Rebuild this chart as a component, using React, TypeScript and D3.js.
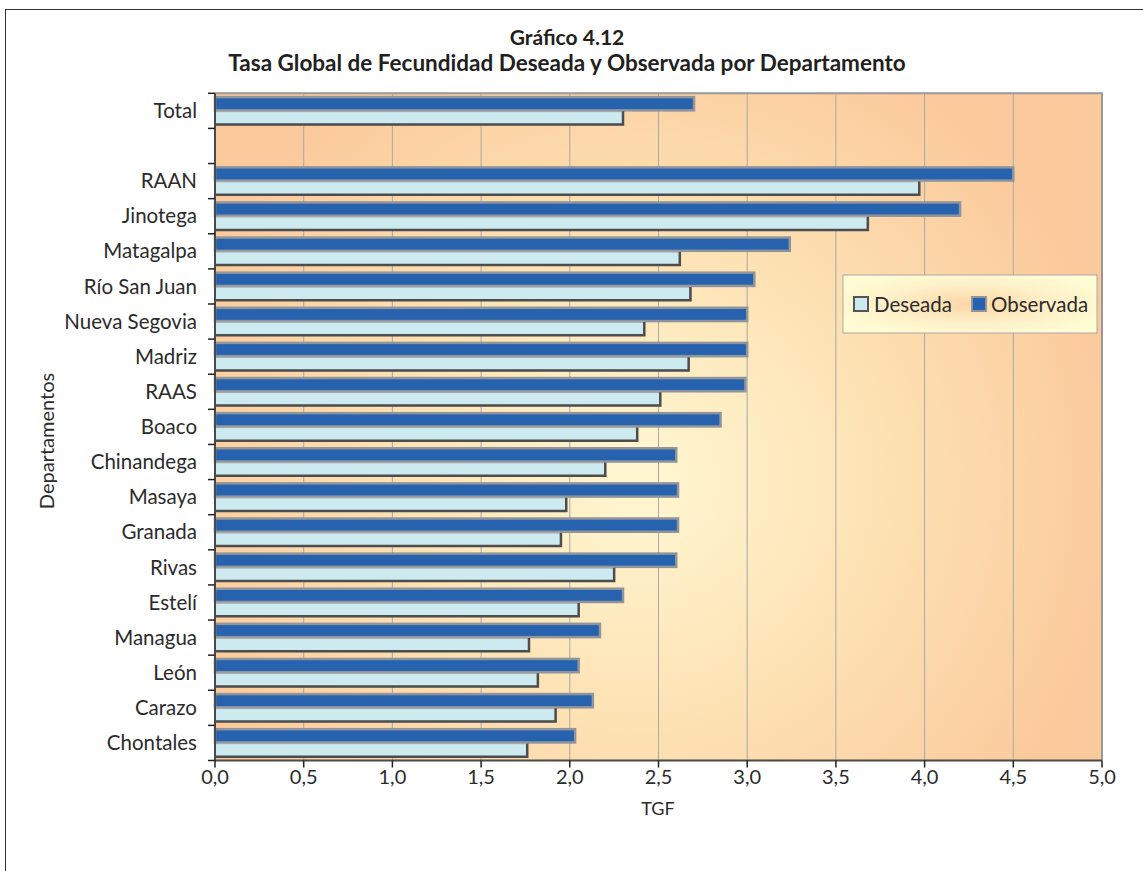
import React, { useEffect, useRef } from 'react';
import * as d3 from 'd3';

const categories = [
    'Total', '', 'RAAN', 'Jinotega', 'Matagalpa', 'Río San Juan', 'Nueva Segovia',
    'Madriz', 'RAAS', 'Boaco', 'Chinandega', 'Masaya', 'Granada', 'Rivas',
    'Estelí', 'Managua', 'León', 'Carazo', 'Chontales',
];
const observada = [2.70, null, 4.50, 4.20, 3.24, 3.04, 3.00, 3.00, 2.99, 2.85, 2.60, 2.61, 2.61, 2.60, 2.30, 2.17, 2.05, 2.13, 2.03];
const deseada = [2.30, null, 3.97, 3.68, 2.62, 2.68, 2.42, 2.67, 2.51, 2.38, 2.20, 1.98, 1.95, 2.25, 2.05, 1.77, 1.82, 1.92, 1.76];
const xTicks = [0, 0.5, 1, 1.5, 2, 2.5, 3, 3.5, 4, 4.5, 5];
const seriesNames = ['Observada', 'Deseada'];

const FONT = 'Lato, "Open Sans", sans-serif';
const TEXT = '#2b2b2b';

export default () => {
    const width = 1143;
    const height = 871;
    const svgRef = useRef<SVGSVGElement>(null);

    useEffect(() => {
        const svg = d3.select(svgRef.current);
        svg.selectAll('*').remove();

        const left = 215, right = 1102, top = 93.3, bottom = 760.5;

        const defs = svg.append('defs');
        const bg = defs.append('radialGradient')
            .attr('id', 'bg')
            .attr('gradientUnits', 'userSpaceOnUse')
            .attr('cx', 640).attr('cy', 480).attr('r', 480);
        bg.append('stop').attr('offset', 0).attr('stop-color', '#fff7d2');
        bg.append('stop').attr('offset', 0.5).attr('stop-color', '#fde2b4');
        bg.append('stop').attr('offset', 1).attr('stop-color', '#fbca9c');

        const lg = defs.append('radialGradient')
            .attr('id', 'lg')
            .attr('cx', 0.5).attr('cy', 0.5).attr('r', 0.55);
        lg.append('stop').attr('offset', 0).attr('stop-color', '#fcd6a6');
        lg.append('stop').attr('offset', 0.6).attr('stop-color', '#fef0c8');
        lg.append('stop').attr('offset', 1).attr('stop-color', '#fffbd2');

        // outer frame
        svg.append('rect')
            .attr('x', 5.5).attr('y', 9.5)
            .attr('width', 1300).attr('height', 1000)
            .attr('fill', 'white').attr('stroke', '#333').attr('stroke-width', 1);

        // title
        svg.append('text')
            .attr('x', 567).attr('y', 45)
            .attr('text-anchor', 'middle')
            .attr('font-family', FONT).attr('font-weight', 'bold').attr('font-size', 21)
            .attr('fill', '#231f20')
            .text('Gráfico 4.12');
        svg.append('text')
            .attr('x', 567).attr('y', 71)
            .attr('text-anchor', 'middle')
            .attr('font-family', FONT).attr('font-weight', 'bold').attr('font-size', 22.5)
            .attr('fill', '#231f20')
            .text('Tasa Global de Fecundidad Deseada y Observada por Departamento');

        const x = d3.scaleLinear().domain([0, 5]).range([left, right]);
        const y = d3.scaleBand<number>()
            .domain(d3.range(categories.length))
            .range([top, bottom])
            .paddingInner(0.16)
            .paddingOuter(0.08);
        const ySub = d3.scaleBand<string>()
            .domain(seriesNames)
            .range([0, y.bandwidth()]);
        const step = y.step();

        // plot background
        svg.append('rect')
            .attr('x', left).attr('y', top)
            .attr('width', right - left).attr('height', bottom - top)
            .attr('fill', 'url(#bg)');

        // grid
        svg.append('g')
            .selectAll('line')
            .data(xTicks.slice(1, -1))
            .join('line')
            .attr('x1', d => x(d)).attr('x2', d => x(d))
            .attr('y1', top).attr('y2', bottom)
            .attr('stroke', '#a9a9a9').attr('stroke-width', 1);

        // plot border top/right
        svg.append('path')
            .attr('d', `M${left},${top}H${right}V${bottom}`)
            .attr('fill', 'none').attr('stroke', '#999').attr('stroke-width', 2);

        // bars
        const rows = categories.map((c, i) => ({ i, obs: observada[i], des: deseada[i] }));
        const g = svg.append('g');
        rows.filter(r => r.obs != null).forEach(r => {
            const y0 = (y(r.i) as number);
            const yo = y0 + (ySub('Observada') as number);
            const yd = y0 + (ySub('Deseada') as number);
            const h = ySub.bandwidth();
            g.append('rect')
                .attr('x', x(0)).attr('y', yo + 1)
                .attr('width', x(r.obs as number) - x(0)).attr('height', h - 1.5)
                .attr('fill', '#2662ae').attr('stroke', '#8f959b').attr('stroke-width', 2.5);
            g.append('rect')
                .attr('x', x(0)).attr('y', yd + 0.5)
                .attr('width', x(r.des as number) - x(0)).attr('height', h - 1.5)
                .attr('fill', '#cdeaf0').attr('stroke', '#a3a9ae').attr('stroke-width', 1.5);
            g.append('path')
                .attr('d', `M${x(0)},${yd + h - 1}H${x(r.des as number)}V${yd + 0.5}`)
                .attr('fill', 'none').attr('stroke', '#4d4d4d').attr('stroke-width', 2.5);
        });

        // y axis
        const yAxis = svg.append('g');
        yAxis.append('line')
            .attr('x1', left).attr('x2', left).attr('y1', top).attr('y2', bottom)
            .attr('stroke', '#4a4a4a').attr('stroke-width', 2);
        yAxis.selectAll('.tk')
            .data(d3.range(categories.length + 1))
            .join('line')
            .attr('class', 'tk')
            .attr('x1', left - 7).attr('x2', left)
            .attr('y1', d => top + d * step).attr('y2', d => top + d * step)
            .attr('stroke', '#222').attr('stroke-width', 1.5);
        yAxis.selectAll('text')
            .data(categories)
            .join('text')
            .attr('x', 197)
            .attr('y', (d, i) => (y(i) as number) + y.bandwidth() / 2)
            .attr('dy', '0.35em')
            .attr('text-anchor', 'end')
            .attr('font-family', FONT).attr('font-size', 20.5)
            .attr('fill', TEXT)
            .text(d => d);

        // x axis
        const xAxis = svg.append('g');
        xAxis.append('line')
            .attr('x1', left).attr('x2', right).attr('y1', bottom).attr('y2', bottom)
            .attr('stroke', '#4a4a4a').attr('stroke-width', 2);
        xAxis.selectAll('.tk')
            .data(xTicks)
            .join('line')
            .attr('class', 'tk')
            .attr('x1', d => x(d)).attr('x2', d => x(d))
            .attr('y1', bottom).attr('y2', bottom + 7)
            .attr('stroke', '#222').attr('stroke-width', 1.5);
        xAxis.selectAll('text')
            .data(xTicks)
            .join('text')
            .attr('x', d => x(d))
            .attr('y', 784)
            .attr('text-anchor', 'middle')
            .attr('font-family', FONT).attr('font-size', 20)
            .attr('fill', TEXT)
            .text(d => d3.format('.1f')(d).replace('.', ','));

        // axis titles
        svg.append('text')
            .attr('x', 658).attr('y', 815)
            .attr('text-anchor', 'middle')
            .attr('font-family', FONT).attr('font-size', 18)
            .attr('fill', TEXT)
            .text('TGF');
        svg.append('text')
            .attr('transform', `translate(54,441) rotate(-90)`)
            .attr('text-anchor', 'middle')
            .attr('font-family', FONT).attr('font-size', 20)
            .attr('fill', TEXT)
            .text('Departamentos');

        // legend
        const leg = svg.append('g').attr('transform', 'translate(843,275)');
        leg.append('rect')
            .attr('width', 254).attr('height', 58)
            .attr('fill', 'url(#lg)').attr('stroke', '#aaa').attr('stroke-width', 1);
        const items = [
            { name: 'Deseada', fill: '#cdeaf0', stroke: '#555', x: 11, tx: 31 },
            { name: 'Observada', fill: '#2662ae', stroke: '#8f959b', x: 129, tx: 148 },
        ];
        items.forEach(it => {
            leg.append('rect')
                .attr('x', it.x).attr('y', 22)
                .attr('width', 14).attr('height', 14)
                .attr('fill', it.fill).attr('stroke', it.stroke).attr('stroke-width', 2);
            leg.append('text')
                .attr('x', it.tx).attr('y', 30)
                .attr('dy', '0.35em')
                .attr('font-family', FONT).attr('font-size', 20.5)
                .attr('fill', TEXT)
                .text(it.name);
        });
    }, []);

    return <>
        <svg ref={svgRef} width={width} height={height}
            style={{ position: 'absolute', left: 0, top: 0 }}></svg>
    </>;
};
